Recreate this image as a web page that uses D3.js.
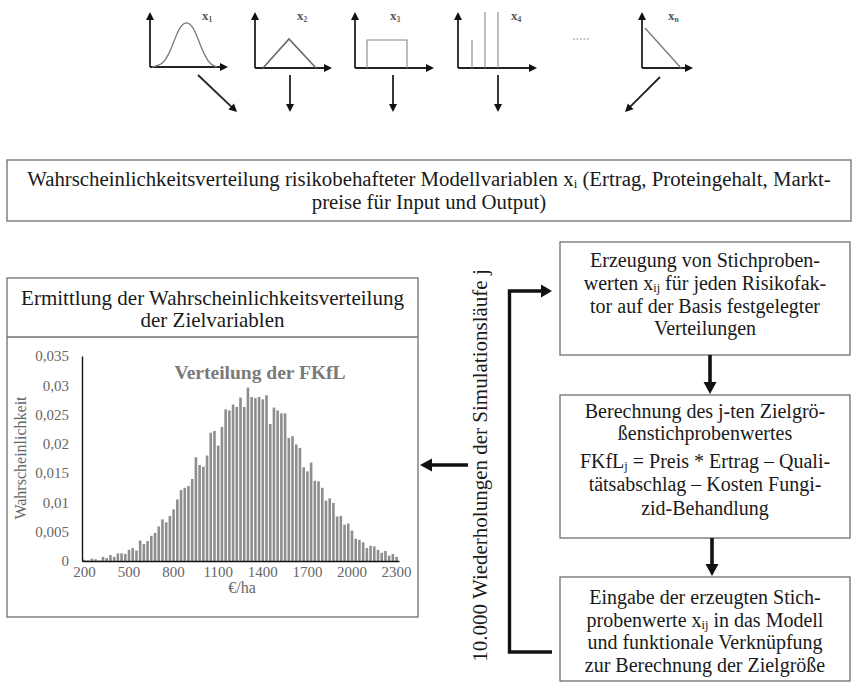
<!DOCTYPE html>
<html><head><meta charset="utf-8">
<script src="https://cdn.jsdelivr.net/npm/d3@7"></script>
<style>
body{margin:0;background:#fff}
svg{display:block}
text{font-family:"Liberation Serif","Times New Roman",serif}
</style>
</head><body>
<svg id="c" width="853" height="685"></svg>
<script>
// ---------- DATA ----------
const categories = [200,225,250,275,300,325,350,375,400,425,450,475,500,525,550,575,600,625,650,675,
  700,725,750,775,800,825,850,875,900,925,950,975,1000,1025,1050,1075,1100,1125,1150,1175,
  1200,1225,1250,1275,1300,1325,1350,1375,1400,1425,1450,1475,1500,1525,1550,1575,1600,1625,1650,1675,
  1700,1725,1750,1775,1800,1825,1850,1875,1900,1925,1950,1975,2000,2025,2050,2075,2100,2125,2150,2175,
  2200,2225,2250,2275,2300];
const probabilities = [0.0002,0.0001,0.0004,0.0003,0.0001,0.0007,0.0005,0.0010,0.0007,0.0013,
  0.0013,0.0012,0.0019,0.0022,0.0018,0.0035,0.0029,0.0034,0.0043,0.0048,
  0.0059,0.0071,0.0066,0.0077,0.0088,0.0105,0.0121,0.0125,0.0128,0.0140,
  0.0177,0.0164,0.0161,0.0180,0.0219,0.0222,0.0197,0.0229,0.0259,0.0257,
  0.0267,0.0263,0.0279,0.0263,0.0296,0.0280,0.0278,0.0280,0.0276,0.0283,
  0.0234,0.0262,0.0257,0.0252,0.0252,0.0210,0.0213,0.0199,0.0193,0.0160,
  0.0153,0.0168,0.0137,0.0136,0.0125,0.0103,0.0107,0.0099,0.0076,0.0077,
  0.0062,0.0064,0.0052,0.0038,0.0036,0.0032,0.0022,0.0026,0.0025,0.0019,
  0.0014,0.0017,0.0009,0.0012,0.0007];
const yTicks = [0,0.005,0.01,0.015,0.02,0.025,0.03,0.035];
const xTickLabels = [200,500,800,1100,1400,1700,2000,2300];
const chartTitle = "Verteilung der FKfL";
const yTitle = "Wahrscheinlichkeit";
const xTitle = "€/ha";
const topText = ["Wahrscheinlichkeitsverteilung risikobehafteter Modellvariablen x_{i} (Ertrag, Proteingehalt, Markt-",
                 "preise für Input und Output)"];
const leftTitle = ["Ermittlung der Wahrscheinlichkeitsverteilung","der Zielvariablen"];
const box1Text = ["Erzeugung von Stichproben-","werten x_{ij} für jeden Risikofak-","tor auf der Basis festgelegter","Verteilungen"];
const box2Text = ["Berechnung des j-ten Zielgrö-","ßenstichprobenwertes"];
const box2Formula = ["FKfL_{j} = Preis * Ertrag – Quali-","tätsabschlag – Kosten Fungi-","zid-Behandlung"];
const box3Text = ["Eingabe der erzeugten Stich-","probenwerte x_{ij} in das Modell","und funktionale Verknüpfung","zur Berechnung der Zielgröße"];
const loopText = "10.000 Wiederholungen der Simulationsläufe j";
const iconLabels = ["1","2","3","4","n"];
const bellShape = [[0,0],[0.1,0.03],[0.2,0.12],[0.3,0.4],[0.42,0.88],[0.53,1],[0.64,0.88],[0.76,0.4],[0.86,0.12],[0.94,0.03],[1,0]];

// ---------- HELPERS ----------
const svg = d3.select("#c");
const ink = "#1a1a1a";
const boxStroke = "#6f6f6f";

function addLine(g, x, y, str, size, opts={}) {
  const t = g.append("text").attr("x", x).attr("y", y)
    .attr("text-anchor", opts.anchor || "middle")
    .style("font-size", size + "px").attr("fill", opts.fill || ink);
  if (opts.transform) t.attr("transform", opts.transform);
  const parts = str.split(/(_\{[^}]*\})/);
  let shifted = false;
  const sh = size * 0.11;
  parts.forEach(p => {
    if (!p) return;
    if (p.startsWith("_{")) {
      t.append("tspan").attr("dy", sh).style("font-size", (size * 0.62) + "px").text(p.slice(2, -1));
      shifted = true;
    } else {
      const ts = t.append("tspan");
      if (shifted) { ts.attr("dy", -sh); shifted = false; }
      ts.text(p);
    }
  });
  return t;
}
function box(x0, y0, x1, y1) {
  svg.append("rect").attr("x", x0).attr("y", y0).attr("width", x1 - x0).attr("height", y1 - y0)
    .attr("fill", "#fff").attr("stroke", boxStroke).attr("stroke-width", 1.3);
}
function head(tipX, tipY, dir, len, half, g = svg, fill = "#111") {
  const bx = tipX - Math.cos(dir) * len, by = tipY - Math.sin(dir) * len;
  const px = -Math.sin(dir) * half, py = Math.cos(dir) * half;
  g.append("path").attr("d", `M${tipX},${tipY}L${bx + px},${by + py}L${bx - px},${by - py}Z`).attr("fill", fill);
}
function thinArrow(x0, y0, x1, y1) {
  const a = Math.atan2(y1 - y0, x1 - x0);
  svg.append("line").attr("x1", x0).attr("y1", y0).attr("x2", x1 - Math.cos(a) * 5).attr("y2", y1 - Math.sin(a) * 5)
    .attr("stroke", "#222").attr("stroke-width", 1.8);
  head(x1, y1, a, 8, 4);
}

// ---------- TOP ICONS ----------
const icons = [
  {ox:150, oy:67, xe:228, lab:202},
  {ox:255, oy:68, xe:332, lab:297},
  {ox:355, oy:68, xe:434, lab:390},
  {ox:458, oy:68, xe:537, lab:511},
  {ox:642, oy:68, xe:693, lab:668}
];
icons.forEach((ic, i) => {
  thinArrow(ic.ox, ic.oy, ic.ox, 12);
  thinArrow(ic.ox, ic.oy, ic.xe, ic.oy);
  const lt = svg.append("text").attr("x", ic.lab).attr("y", 20).style("font-size", "13px")
    .style("font-weight", "bold").attr("fill", "#555");
  lt.append("tspan").text("x");
  lt.append("tspan").attr("dy", 2).style("font-size", "7.5px").text(iconLabels[i]);
});
const bx = d3.scaleLinear().domain([0,1]).range([152, 217]);
const by = d3.scaleLinear().domain([0,1]).range([67, 21]);
svg.append("path").datum(bellShape)
  .attr("d", d3.line().x(d => bx(d[0])).y(d => by(d[1])).curve(d3.curveBasis))
  .attr("fill", "none").attr("stroke", "#777").attr("stroke-width", 1.3);
svg.append("path").attr("d", "M263,68L289,39L316,68").attr("fill", "none").attr("stroke", "#666").attr("stroke-width", 1.6);
svg.append("path").attr("d", "M367,68L367,40L407,40L407,68").attr("fill", "none").attr("stroke", "#888").attr("stroke-width", 1.1);
[[472,40],[485,12],[498,12]].forEach(d => svg.append("line").attr("x1", d[0]).attr("x2", d[0]).attr("y1", 68).attr("y2", d[1])
  .attr("stroke", "#888").attr("stroke-width", 1.1));
svg.append("path").attr("d", "M645,28L681,68").attr("fill", "none").attr("stroke", "#777").attr("stroke-width", 1.3);
svg.append("line").attr("x1", 573).attr("x2", 590).attr("y1", 39).attr("y2", 39)
  .attr("stroke", "#999").attr("stroke-width", 1.2).attr("stroke-dasharray", "2,1.5");
thinArrow(198, 75, 237, 112);
thinArrow(290, 75, 290, 112);
thinArrow(393, 75, 393, 112);
thinArrow(498, 75, 498, 112);
thinArrow(660, 77, 625, 112);

// ---------- TOP BOX ----------
box(7, 160, 851, 221);
topText.forEach((l, i) => addLine(svg, 429, 186 + i * 23, l, 20.8));

// ---------- LEFT BOX WITH HISTOGRAM ----------
box(7, 278, 418, 617);
svg.append("line").attr("x1", 7).attr("x2", 418).attr("y1", 337).attr("y2", 337).attr("stroke", boxStroke).attr("stroke-width", 1.3);
leftTitle.forEach((l, i) => addLine(svg, 212.5, 305 + i * 22, l, 21));

const x = d3.scaleBand().domain(categories).range([82, 399]).padding(0.3);
const y = d3.scaleLinear().domain([0, 0.035]).range([561, 356]);
const de = d3.formatLocale({decimal: ",", thousands: ".", grouping: [3], currency: ["", "€"]});
const fmt = de.format("~g");

const chart = svg.append("g");
chart.selectAll("rect.bar").data(probabilities).join("rect").attr("class", "bar")
  .attr("x", (d, i) => x(categories[i])).attr("width", x.bandwidth())
  .attr("y", d => y(d)).attr("height", d => y(0) - y(d)).attr("fill", "#8e8e8e");

const xa = chart.append("g").attr("transform", "translate(0,561)")
  .call(d3.axisBottom(x).tickValues(xTickLabels).tickSize(0).tickSizeOuter(0).tickPadding(5));
xa.select(".domain").attr("stroke", "#111").attr("stroke-width", 1.4);
xa.selectAll("text").style("font-family", '"Liberation Serif",serif').style("font-size", "15px").attr("fill", "#666");

const ya = chart.append("g").attr("transform", "translate(82,0)")
  .call(d3.axisLeft(y).tickValues(yTicks).tickFormat(fmt).tickSize(0).tickSizeOuter(0).tickPadding(13));
ya.select(".domain").attr("stroke", "#111").attr("stroke-width", 1.4);
ya.selectAll("text").style("font-family", '"Liberation Serif",serif').style("font-size", "15px").attr("fill", "#666");

chart.append("text").attr("x", 260).attr("y", 379).attr("text-anchor", "middle")
  .style("font-size", "19.5px").style("font-weight", "bold").attr("fill", "#7a7a7a").text(chartTitle);
chart.append("text").attr("transform", "translate(26,458) rotate(-90)").attr("text-anchor", "middle")
  .style("font-size", "16px").attr("fill", "#666").text(yTitle);
chart.append("text").attr("x", 242).attr("y", 593).attr("text-anchor", "middle")
  .style("font-size", "16px").attr("fill", "#666").text(xTitle);

// ---------- RIGHT BOXES ----------
box(560, 242, 850, 355);
box1Text.forEach((l, i) => addLine(svg, 705, 267 + i * 22.8, l, 20));
box(560, 395, 850, 538);
box2Text.forEach((l, i) => addLine(svg, 705, 418 + i * 22, l, 20));
box2Formula.forEach((l, i) => addLine(svg, 705, 468 + i * 23.4, l, 20));
box(560, 577, 850, 681);
box3Text.forEach((l, i) => addLine(svg, 705, 604 + i * 22.6, l, 20));

function thick(x0, y0, x1, y1) {
  const a = Math.atan2(y1 - y0, x1 - x0);
  svg.append("line").attr("x1", x0).attr("y1", y0).attr("x2", x1 - Math.cos(a) * 10).attr("y2", y1 - Math.sin(a) * 10)
    .attr("stroke", "#111").attr("stroke-width", 3.6);
  head(x1, y1, a, 12, 6.5);
}
thick(710, 355, 710, 394);
thick(712, 538, 712, 576);
thick(468, 465, 420, 465);
svg.append("path").attr("d", "M552,652L509.5,652L509.5,291L545,291").attr("fill", "none")
  .attr("stroke", "#111").attr("stroke-width", 3.4);
head(552, 291, 0, 11, 6.5);

addLine(svg, 0, 0, loopText, 21, {transform: "translate(487,465.5) rotate(-90)"});
</script>
</body></html>
